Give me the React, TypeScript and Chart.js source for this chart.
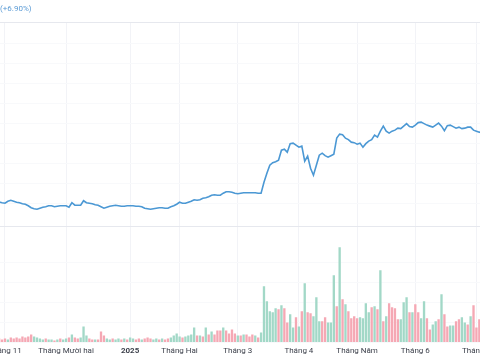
import React, { useEffect, useRef } from 'react';
import { Chart, registerables } from 'chart.js';

Chart.register(...registerables);

// Month tick labels (first trading session of each month) and sessions per month
const MONTH_TICKS = ['', 'Tháng 11', 'Tháng Mười hai', '2025', 'Tháng Hai', 'Tháng 3', 'Tháng 4', 'Tháng Năm', 'Tháng 6', 'Tháng 7'];
const MONTH_SESSIONS = [2, 21, 22, 17, 20, 21, 20, 20, 21, 3];

// Closing price per session
const PRICE = [
  24.13, 24.05, 24.0, 24.2, 24.3, 24.2, 24.1, 24.05, 23.95, 23.9,
  23.75, 23.55, 23.45, 23.4, 23.5, 23.6, 23.65, 23.75, 23.75, 23.65,
  23.7, 23.75, 23.75, 23.75, 23.6, 24.05, 23.8, 23.8, 23.8, 24.25,
  24.05, 24.0, 23.95, 23.85, 23.8, 23.65, 23.5, 23.6, 23.7, 23.75,
  23.8, 23.75, 23.7, 23.7, 23.75, 23.75, 23.75, 23.7, 23.7, 23.65,
  23.5, 23.45, 23.4, 23.45, 23.5, 23.55, 23.55, 23.5, 23.5, 23.65,
  23.75, 23.9, 24.1, 24.0, 24.0, 24.1, 24.2, 24.35, 24.3, 24.35,
  24.5, 24.55, 24.65, 24.8, 24.85, 24.8, 24.8, 25.0, 25.15, 25.15,
  25.1, 25.0, 24.95, 25.0, 25.05, 25.05, 25.05, 25.05, 25.05, 25.0,
  25.0, 26.1, 27.0, 27.8, 28.05, 28.15, 28.3, 29.3, 29.4, 29.1,
  29.95, 30.0, 29.8, 29.6, 29.7, 28.2, 28.7, 27.5, 26.8, 27.8,
  28.8, 29.0, 28.75, 28.6, 28.75, 28.9, 30.5, 30.9, 30.85, 30.5,
  30.35, 30.1, 30.05, 29.9, 30.0, 29.6, 29.95, 30.2, 30.35, 30.8,
  30.6, 31.2, 31.7, 31.2, 31.0, 31.2, 31.3, 31.5, 31.45, 31.7,
  31.95, 31.65, 31.6, 31.8, 32.05, 32.1, 31.95, 31.8, 31.7, 31.6,
  31.8, 32.0, 31.7, 31.25, 31.75, 31.8, 31.65, 31.5, 31.6, 31.45,
  31.5, 31.6, 31.6, 31.3, 31.2, 31.1, 31.05,
];

// Volume per session (millions)
const VOLUME = [
  0.4, 0.3, 0.4, 0.3, 0.5, 0.4, 0.5, 0.4, 0.6, 0.5,
  0.6, 0.8, 0.6, 0.5, 0.4, 0.3, 0.4, 0.3, 0.3, 0.2,
  0.3, 0.4, 0.3, 0.4, 0.5, 0.8, 0.5, 0.4, 0.5, 1.6,
  0.7, 0.4, 0.3, 0.3, 0.3, 1.1, 0.7, 0.4, 0.3, 0.4,
  0.3, 0.4, 0.3, 0.4, 0.3, 0.5, 0.4, 0.3, 0.4, 0.3,
  0.4, 0.5, 0.4, 0.3, 0.4, 0.3, 0.4, 0.3, 0.4, 0.5,
  0.7, 0.9, 0.6, 0.5, 0.6, 0.7, 0.8, 1.5, 0.7, 0.7,
  0.6, 1.5, 0.8, 1.1, 0.8, 1.2, 1.2, 1.5, 1.2, 0.9,
  1.3, 0.9, 0.7, 0.7, 0.8, 0.8, 0.6, 0.8, 0.7, 0.5,
  1.0, 5.6, 4.1, 3.1, 3.0, 3.4, 3.3, 3.7, 3.4, 2.0,
  2.8, 1.5, 2.5, 1.6, 3.1, 5.9, 3.0, 2.9, 2.6, 4.5,
  2.1, 2.1, 2.5, 2.0, 2.0, 6.7, 3.6, 9.5, 4.3, 3.8,
  3.1, 2.4, 2.6, 2.4, 2.5, 2.4, 3.9, 3.0, 3.5, 3.6,
  3.3, 7.2, 2.1, 2.6, 3.9, 3.5, 3.4, 2.3, 2.3, 4.0,
  4.5, 3.0, 3.0, 3.8, 3.0, 2.4, 4.1, 2.4, 1.3, 1.8,
  2.1, 2.3, 4.8, 2.8, 1.6, 1.7, 1.7, 2.1, 2.3, 2.5,
  2.0, 1.8, 2.6, 3.7, 1.5, 2.3, 2.1,
];

// u = up session (green volume), d = down session (red volume)
const VOLUME_SIDE = [
  'dddudddddd', 'dduuuuduud', 'uduududduu', 'udduddduud', 'uududuuddu',
  'ddduududdu', 'uuuduuuudu', 'dududddudd', 'ddududddud', 'uuuuuududd',
  'uudududduu', 'udduuududu', 'dddduuuudu', 'dududddduu', 'ududduuddu',
  'ududduuddu', 'ududddu',
].join('').split('');

const CHANGE_TEXT = '(+6.90%)';

const CATEGORIES: string[] = [];
const TICK_TEXT: string[] = [];
MONTH_SESSIONS.forEach((n, m) => {
  for (let d = 0; d < n; d++) {
    CATEGORIES.push(`${m}-${d + 1}`);
    TICK_TEXT.push(d === 0 ? MONTH_TICKS[m] : '');
  }
});

const FONT = 'Roboto, "Liberation Sans", sans-serif';
const UP = '#a2d8c7';
const DOWN = '#f5a8b4';
const LINE = '#4b98d4';
const PANE_LINE = '#e6e8ee';
const FAINT = '#f8f9fb';
const MONTH_GRID = '#f2f3f7';

const PRICE_MIN = 21.7;
const PRICE_MAX = 42.1;
const VOL_MAX = 11.6;

const headerText = {
  id: 'headerText',
  afterDraw(chart: any) {
    const ctx = chart.ctx;
    ctx.save();
    ctx.font = `8px ${FONT}`;
    ctx.fillStyle = '#5b9bd5';
    ctx.textBaseline = 'middle';
    ctx.textAlign = 'left';
    ctx.fillText(CHANGE_TEXT, 20, 9);
    ctx.restore();
  },
};

export default function App() {
  const ref = useRef<HTMLCanvasElement | null>(null);

  useEffect(() => {
    if (!ref.current) return;
    const chart = new Chart(ref.current, {
      type: 'bar',
      data: {
        labels: CATEGORIES,
        datasets: [
          {
            type: 'line',
            data: PRICE,
            yAxisID: 'price',
            borderColor: LINE,
            borderWidth: 1.6,
            pointRadius: 0,
            tension: 0,
            order: 0,
          } as any,
          {
            type: 'bar',
            data: VOLUME,
            yAxisID: 'vol',
            backgroundColor: VOLUME_SIDE.map((s) => (s === 'u' ? UP : DOWN)),
            barPercentage: 0.8,
            categoryPercentage: 1,
            order: 1,
          },
        ],
      },
      options: {
        responsive: false,
        animation: false,
        layout: { padding: { left: 17.7, right: 16.3, top: 22, bottom: 0 } },
        plugins: { legend: { display: false }, tooltip: { enabled: false }, title: { display: false } },
        scales: {
          x: {
            type: 'category',
            offset: true,
            border: { display: false },
            grid: {
              offset: false,
              drawTicks: false,
              color: (c: any) => (TICK_TEXT[c.index] ? MONTH_GRID : 'rgba(0,0,0,0)'),
            },
            ticks: {
              autoSkip: false,
              maxRotation: 0,
              minRotation: 0,
              padding: 4,
              color: '#3b3f4a',
              font: (c: any) => ({ size: 8, family: FONT, weight: TICK_TEXT[c.index] === '2025' ? 'bold' : 'normal' }),
              callback: (_v: any, i: number) => TICK_TEXT[i],
            },
          },
          price: {
            type: 'linear',
            position: 'right',
            stack: 'pane',
            stackWeight: 204,
            min: PRICE_MIN,
            max: PRICE_MAX,
            border: { display: false },
            ticks: { display: false, stepSize: 2 },
            grid: {
              drawTicks: false,
              color: (c: any) => (c.tick && (c.tick.value === PRICE_MIN || c.tick.value === PRICE_MAX) ? PANE_LINE : FAINT),
            },
          },
          vol: {
            type: 'linear',
            position: 'right',
            stack: 'pane',
            stackWeight: 116,
            min: 0,
            max: VOL_MAX,
            border: { display: false },
            ticks: { display: false, stepSize: 2 },
            grid: {
              drawTicks: false,
              color: (c: any) => (c.tick && c.tick.value === VOL_MAX ? PANE_LINE : FAINT),
            },
          },
        },
      } as any,
      plugins: [headerText],
    });
    return () => chart.destroy();
  }, []);

  return (
    <div style={{ position: 'fixed', left: 0, top: 0, width: 480, height: 360, overflow: 'hidden', background: '#fff' }}>
      <div style={{ position: 'absolute', left: -20, top: 0, width: 520, height: 360 }}>
        <canvas ref={ref} width={520} height={360} style={{ width: 520, height: 360, display: 'block' }} />
      </div>
    </div>
  );
}
